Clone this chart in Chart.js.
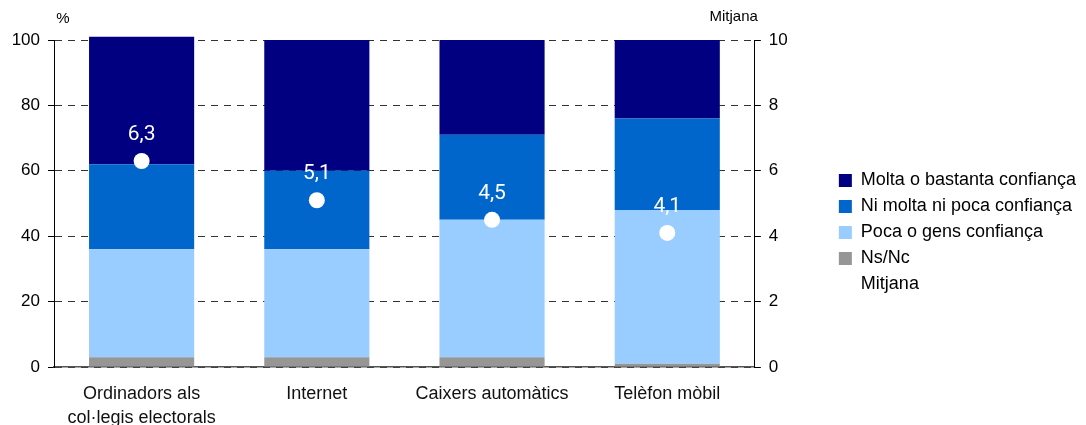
<!DOCTYPE html>
<html>
<head>
<meta charset="utf-8">
<script src="https://cdn.jsdelivr.net/npm/chart.js@4.4.1/dist/chart.umd.min.js"></script>
<style>
  html, body { margin: 0; padding: 0; background: #fff; }
  #wrap { width: 1086px; height: 425px; }
</style>
</head>
<body>
<div id="wrap"><canvas id="c"></canvas></div>
<script>
const categories = [["Ordinadors als", "col·legis electorals"], "Internet", "Caixers automàtics", "Telèfon mòbil"]
const nsNc = [3, 3, 3, 1]
const poca = [33, 33, 42, 47]
const niMolta = [26, 24, 26, 28]
const molta = [39, 40, 29, 24]
const mitjana = [6.3, 5.1, 4.5, 4.1]
const leftTicks = [0, 20, 40, 60, 80, 100]
const rightTicks = [0, 2, 4, 6, 8, 10]
const legendOrder = ["Molta o bastanta confiança", "Ni molta ni poca confiança", "Poca o gens confiança", "Ns/Nc", "Mitjana"]

const FONT = "'Liberation Sans', Arial, sans-serif"

// white value labels above the mean points + the small axis captions
const extraText = {
  id: "extraText",
  afterDatasetsDraw(chart) {
    const ctx = chart.ctx
    const meta = chart.getDatasetMeta(4)
    ctx.save()
    ctx.fillStyle = "#fff"
    ctx.font = "21px Roboto, sans-serif"
    ctx.textAlign = "center"
    ctx.textBaseline = "middle"
    meta.data.forEach((pt, i) => {
      ctx.fillText(mitjana[i].toFixed(1).replace(".", ","), pt.x, pt.y - 26)
    })
    ctx.restore()
  },
  afterDraw(chart) {
    const ctx = chart.ctx
    const a = chart.chartArea
    ctx.save()
    ctx.fillStyle = "#000"
    ctx.font = "15px " + FONT
    ctx.textBaseline = "middle"
    ctx.textAlign = "center"
    ctx.fillText("%", a.left + 9, 19)
    ctx.textAlign = "right"
    ctx.fillText("Mitjana", a.right + 3, 17)
    ctx.restore()
  }
}

new Chart(document.getElementById("c"), {
  data: {
    labels: categories,
    datasets: [
      { type: "bar", label: "Ns/Nc", data: nsNc, backgroundColor: "#969696", yAxisID: "y", clip: false },
      { type: "bar", label: "Poca o gens confiança", data: poca, backgroundColor: "#99ccff", yAxisID: "y", clip: false },
      { type: "bar", label: "Ni molta ni poca confiança", data: niMolta, backgroundColor: "#0066cc", yAxisID: "y", clip: false },
      { type: "bar", label: "Molta o bastanta confiança", data: molta, backgroundColor: "#000080", yAxisID: "y", clip: false },
      {
        type: "line", label: "Mitjana", data: mitjana, yAxisID: "y2", order: -1,
        showLine: false, pointRadius: 8, pointHoverRadius: 8,
        pointBackgroundColor: "#fff", pointBorderColor: "#fff",
        backgroundColor: "#fff", borderColor: "#fff", borderWidth: 0
      }
    ]
  },
  options: {
    responsive: true,
    maintainAspectRatio: false,
    animation: false,
    layout: { padding: { top: 40, left: 0, right: 0, bottom: 0 } },
    datasets: { bar: { barPercentage: 0.6, categoryPercentage: 1, borderWidth: 0 } },
    scales: {
      x: {
        stacked: true,
        grid: { display: false },
        border: { display: true, color: "#555", width: 1.5 },
        ticks: { color: "#111", font: { family: FONT, size: 18, lineHeight: 1.28 }, padding: 8, maxRotation: 0, autoSkip: false },
        afterFit(scale) { scale.height = 58 }
      },
      y: {
        stacked: true,
        min: 0, max: 100,
        afterBuildTicks(scale) { scale.ticks = leftTicks.map(v => ({ value: v })) },
        grid: { color: "#333", lineWidth: 1, tickLength: 6, tickColor: "#000", tickBorderDash: [] },
        border: { color: "#000", width: 1, dash: [7, 6] },
        ticks: { color: "#000", font: { family: FONT, size: 17 }, padding: 8 },
        afterFit(scale) { scale.width = 54 }
      },
      y2: {
        position: "right",
        min: 0, max: 10,
        afterBuildTicks(scale) { scale.ticks = rightTicks.map(v => ({ value: v })) },
        grid: { drawOnChartArea: false, tickLength: 6, tickColor: "#000" },
        border: { color: "#000", width: 1 },
        ticks: { color: "#000", font: { family: FONT, size: 17 }, padding: 8 },
        afterFit(scale) { scale.width = 76 }
      }
    },
    plugins: {
      legend: {
        position: "right",
        align: "center",
        maxWidth: 320,
        labels: {
          color: "#000",
          font: { family: FONT, size: 18 },
          boxWidth: 13, boxHeight: 13, padding: 8,
          sort: (a, b) => legendOrder.indexOf(a.text) - legendOrder.indexOf(b.text)
        }
      },
      tooltip: { enabled: false }
    }
  },
  plugins: [extraText]
})
</script>
</body>
</html>
